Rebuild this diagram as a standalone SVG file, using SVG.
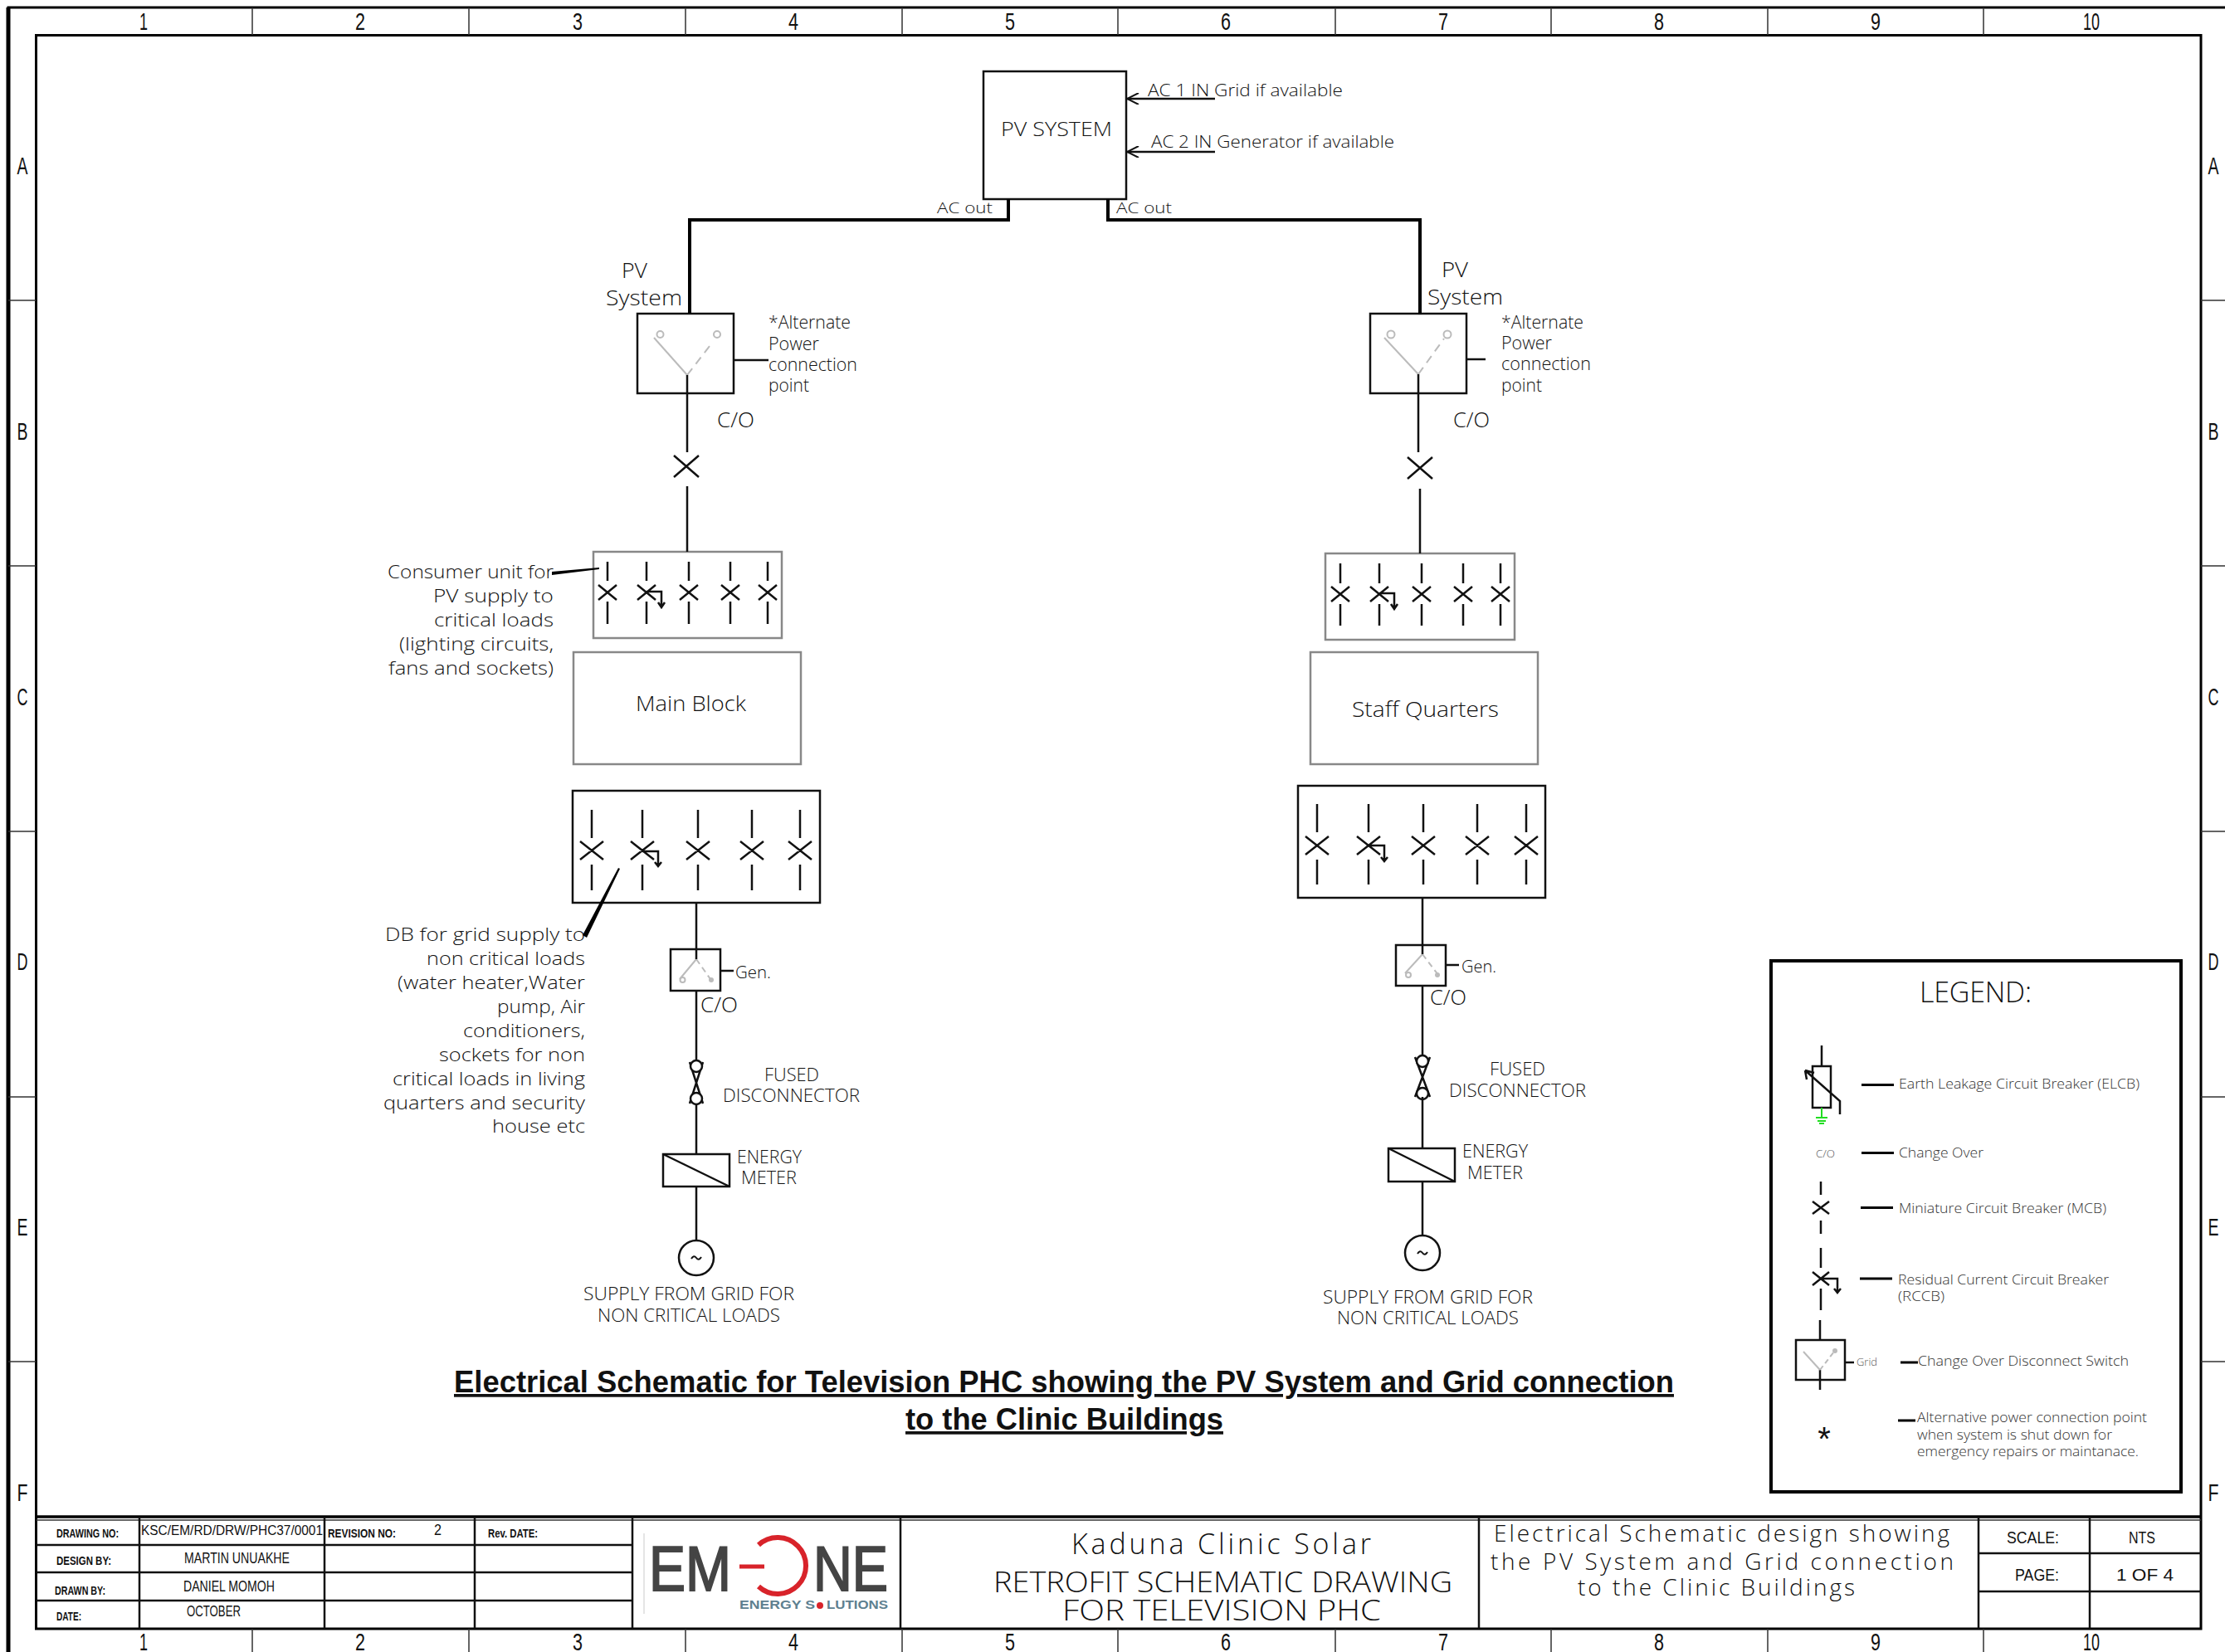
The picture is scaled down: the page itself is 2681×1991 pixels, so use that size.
<svg xmlns="http://www.w3.org/2000/svg" width="2681" height="1991" viewBox="0 0 2681 1991">
<style>
text{font-family:"Open Sans","Liberation Sans",sans-serif;font-weight:300;fill:#111;font-size:22px}
.w{fill:none;stroke:#111;stroke-width:2.5}
.thin{fill:none;stroke:#111;stroke-width:2}
.hv{fill:none;stroke:#000;stroke-width:4}
.gb{fill:#fff;stroke:#888;stroke-width:2.5}
.bb{fill:#fff;stroke:#111;stroke-width:2.5}
.lg{fill:none;stroke:#bbb;stroke-width:2}
.dg{fill:none;stroke:#bbb;stroke-width:2;stroke-dasharray:10 7}
.frame{fill:none;stroke:#000;stroke-width:3}
.tick{fill:none;stroke:#333;stroke-width:1.5}
.n{font-family:"Liberation Sans",sans-serif;font-weight:400;font-size:30px;fill:#111}
.m{font-family:"Liberation Sans",sans-serif;font-weight:400;font-size:18px;fill:#111}
.l{font-family:"Liberation Sans",sans-serif;font-weight:400;font-size:21px;fill:#111}
.bd{font-family:"Liberation Sans",sans-serif;font-weight:700;font-size:14px;fill:#111}
.big{font-size:34px}
.sm{font-size:16px;fill:#333}
.ttl{font-family:"Liberation Sans",sans-serif;font-weight:700;font-size:37px;fill:#111;text-decoration:underline}
</style>
<defs>
<marker id="open" viewBox="0 0 10 10" refX="10" refY="5" markerWidth="18" markerHeight="14" orient="auto" markerUnits="userSpaceOnUse"><path d="M0 0L10 5L0 10" fill="none" stroke="#111" stroke-width="1.4"/></marker>
</defs>
<rect width="2681" height="1991" fill="#fff"/>
<g id="frame">
<path d="M10 1991V9H2681" fill="none" stroke="#000" stroke-width="3"/>
<path d="M10 9V1991" fill="none" stroke="#000" stroke-width="5"/>
<path class="frame" d="M43.5 42.5H2652V1963H43.5Z"/>
<path class="tick" d="M304 9V42M565 9V42M826 9V42M1087 9V42M1347 9V42M1609 9V42M1869 9V42M2130 9V42M2390 9V42M304 1963V1991M565 1963V1991M826 1963V1991M1087 1963V1991M1347 1963V1991M1609 1963V1991M1869 1963V1991M2130 1963V1991M2390 1963V1991M10 362H43M10 682H43M10 1002H43M10 1322H43M10 1641H43M2652 362H2681M2652 682H2681M2652 1002H2681M2652 1322H2681M2652 1641H2681"/>
<text class="n" x="173" y="36" text-anchor="middle" textLength="10" lengthAdjust="spacingAndGlyphs">1</text><text class="n" x="434" y="36" text-anchor="middle" textLength="12" lengthAdjust="spacingAndGlyphs">2</text><text class="n" x="696" y="36" text-anchor="middle" textLength="12" lengthAdjust="spacingAndGlyphs">3</text><text class="n" x="956" y="36" text-anchor="middle" textLength="12" lengthAdjust="spacingAndGlyphs">4</text><text class="n" x="1217" y="36" text-anchor="middle" textLength="12" lengthAdjust="spacingAndGlyphs">5</text><text class="n" x="1477" y="36" text-anchor="middle" textLength="12" lengthAdjust="spacingAndGlyphs">6</text><text class="n" x="1739" y="36" text-anchor="middle" textLength="12" lengthAdjust="spacingAndGlyphs">7</text><text class="n" x="1999" y="36" text-anchor="middle" textLength="12" lengthAdjust="spacingAndGlyphs">8</text><text class="n" x="2260" y="36" text-anchor="middle" textLength="12" lengthAdjust="spacingAndGlyphs">9</text><text class="n" x="2520" y="36" text-anchor="middle" textLength="20" lengthAdjust="spacingAndGlyphs">10</text>
<text class="n" x="173" y="1989" text-anchor="middle" textLength="10" lengthAdjust="spacingAndGlyphs">1</text><text class="n" x="434" y="1989" text-anchor="middle" textLength="12" lengthAdjust="spacingAndGlyphs">2</text><text class="n" x="696" y="1989" text-anchor="middle" textLength="12" lengthAdjust="spacingAndGlyphs">3</text><text class="n" x="956" y="1989" text-anchor="middle" textLength="12" lengthAdjust="spacingAndGlyphs">4</text><text class="n" x="1217" y="1989" text-anchor="middle" textLength="12" lengthAdjust="spacingAndGlyphs">5</text><text class="n" x="1477" y="1989" text-anchor="middle" textLength="12" lengthAdjust="spacingAndGlyphs">6</text><text class="n" x="1739" y="1989" text-anchor="middle" textLength="12" lengthAdjust="spacingAndGlyphs">7</text><text class="n" x="1999" y="1989" text-anchor="middle" textLength="12" lengthAdjust="spacingAndGlyphs">8</text><text class="n" x="2260" y="1989" text-anchor="middle" textLength="12" lengthAdjust="spacingAndGlyphs">9</text><text class="n" x="2520" y="1989" text-anchor="middle" textLength="20" lengthAdjust="spacingAndGlyphs">10</text>
<text class="n" x="27" y="210" text-anchor="middle" textLength="13" lengthAdjust="spacingAndGlyphs">A</text><text class="n" x="27" y="530" text-anchor="middle" textLength="13" lengthAdjust="spacingAndGlyphs">B</text><text class="n" x="27" y="850" text-anchor="middle" textLength="13" lengthAdjust="spacingAndGlyphs">C</text><text class="n" x="27" y="1169" text-anchor="middle" textLength="13" lengthAdjust="spacingAndGlyphs">D</text><text class="n" x="27" y="1489" text-anchor="middle" textLength="13" lengthAdjust="spacingAndGlyphs">E</text><text class="n" x="27" y="1809" text-anchor="middle" textLength="13" lengthAdjust="spacingAndGlyphs">F</text>
<text class="n" x="2667" y="210" text-anchor="middle" textLength="13" lengthAdjust="spacingAndGlyphs">A</text><text class="n" x="2667" y="530" text-anchor="middle" textLength="13" lengthAdjust="spacingAndGlyphs">B</text><text class="n" x="2667" y="850" text-anchor="middle" textLength="13" lengthAdjust="spacingAndGlyphs">C</text><text class="n" x="2667" y="1169" text-anchor="middle" textLength="13" lengthAdjust="spacingAndGlyphs">D</text><text class="n" x="2667" y="1489" text-anchor="middle" textLength="13" lengthAdjust="spacingAndGlyphs">E</text><text class="n" x="2667" y="1809" text-anchor="middle" textLength="13" lengthAdjust="spacingAndGlyphs">F</text>
</g>
<g id="pv-system"><rect class="bb" x="1185" y="86" width="172" height="154"/><text style="font-size:24px" x="1206" y="164" textLength="134" lengthAdjust="spacingAndGlyphs">PV SYSTEM</text></g>
<g id="inputs-labels">
<text style="font-size:20px" x="1383" y="116" textLength="235" lengthAdjust="spacingAndGlyphs">AC 1 IN Grid if available</text>
<text style="font-size:20px" x="1387" y="178" textLength="293" lengthAdjust="spacingAndGlyphs">AC 2 IN Generator if available</text>
<text style="font-size:19px" x="1129" y="257" textLength="67" lengthAdjust="spacingAndGlyphs">AC out</text>
<text style="font-size:19px" x="1345" y="257" textLength="67" lengthAdjust="spacingAndGlyphs">AC out</text>
</g>
<g id="left-changeover">
<text style="font-size:26px" x="749" y="335" textLength="31" lengthAdjust="spacingAndGlyphs">PV</text>
<text style="font-size:26px" x="730" y="368" textLength="92" lengthAdjust="spacingAndGlyphs">System</text>
<rect class="bb" x="768" y="378" width="116" height="96"/>
<path class="lg" d="M828 452L788 407"/><path class="dg" d="M828 452L859 412"/>
<circle class="lg" cx="795.500" cy="403" r="4"/><circle class="lg" cx="864" cy="403" r="4"/>
<text x="926" y="396" textLength="99" lengthAdjust="spacingAndGlyphs">*Alternate</text>
<text x="926" y="422" textLength="61" lengthAdjust="spacingAndGlyphs">Power</text>
<text x="926" y="447" textLength="107" lengthAdjust="spacingAndGlyphs">connection</text>
<text x="926" y="472" textLength="49" lengthAdjust="spacingAndGlyphs">point</text>
<text style="font-size:26px" x="864" y="515" textLength="45" lengthAdjust="spacingAndGlyphs">C/O</text>
<path class="w" d="M812 549L842 575M842 549L812 575"/>
</g>
<g id="left-consumer-unit">
<rect class="gb" x="715" y="665" width="227" height="104"/>
<path class="w" d="M732 677V700M732 725V752M721 705L743 723M743 705L721 723M779 677V700M779 725V752M768 705L790 723M790 705L768 723M830 677V700M830 725V752M819 705L841 723M841 705L819 723M880 677V700M880 725V752M869 705L891 723M891 705L869 723M925 677V700M925 725V752M914 705L936 723M936 705L914 723M779 713H797V732M793 726L797 732L801 726"/>
<text x="467" y="697" textLength="200" lengthAdjust="spacingAndGlyphs">Consumer unit for</text>
<text x="522" y="726" textLength="145" lengthAdjust="spacingAndGlyphs">PV supply to</text>
<text x="523" y="755" textLength="144" lengthAdjust="spacingAndGlyphs">critical loads</text>
<text x="481" y="784" textLength="186" lengthAdjust="spacingAndGlyphs">(lighting circuits,</text>
<text x="468" y="813" textLength="199" lengthAdjust="spacingAndGlyphs">fans and sockets)</text>
</g>
<g id="main-block"><rect class="gb" x="691" y="786" width="274" height="135"/><text style="font-size:25px" x="766" y="857" textLength="133" lengthAdjust="spacingAndGlyphs">Main Block</text></g>
<g id="left-db">
<rect class="bb" x="690" y="953" width="298" height="135"/>
<path class="w" d="M713 976V1010M713 1042V1073M699 1014L727 1036M727 1014L699 1036M774 976V1010M774 1042V1073M760 1014L788 1036M788 1014L760 1036M841 976V1010M841 1042V1073M827 1014L855 1036M855 1014L827 1036M906 976V1010M906 1042V1073M892 1014L920 1036M920 1014L892 1036M964 976V1010M964 1042V1073M950 1014L978 1036M978 1014L950 1036M774 1026H793V1044M789 1039L793 1044L797 1039"/>
<text x="464" y="1134" textLength="241" lengthAdjust="spacingAndGlyphs">DB for grid supply to</text>
<text x="514" y="1163" textLength="191" lengthAdjust="spacingAndGlyphs">non critical loads</text>
<text x="479" y="1192" textLength="226" lengthAdjust="spacingAndGlyphs">(water heater,Water</text>
<text x="599" y="1221" textLength="106" lengthAdjust="spacingAndGlyphs">pump, Air</text>
<text x="558" y="1250" textLength="147" lengthAdjust="spacingAndGlyphs">conditioners,</text>
<text x="529" y="1279" textLength="176" lengthAdjust="spacingAndGlyphs">sockets for non</text>
<text x="473" y="1308" textLength="232" lengthAdjust="spacingAndGlyphs">critical loads in living</text>
<text x="462" y="1337" textLength="243" lengthAdjust="spacingAndGlyphs">quarters and security</text>
<text x="593" y="1365" textLength="112" lengthAdjust="spacingAndGlyphs">house etc</text>
</g>
<g id="left-grid-feed">
<rect class="bb" x="808" y="1144" width="60" height="50"/>
<path class="lg" d="M839 1156L819 1180"/><path style="stroke:#bbb;stroke-width:2;stroke-dasharray:7 5" d="M839 1156L856 1180"/>
<circle cx="822.500" cy="1181" r="3" fill="none" stroke="#bbb" stroke-width="2"/><circle cx="857" cy="1181" r="3" fill="#bbb"/>
<text style="font-size:20px" x="886" y="1179" textLength="43" lengthAdjust="spacingAndGlyphs">Gen.</text>
<text style="font-size:26px" x="844" y="1220" textLength="45" lengthAdjust="spacingAndGlyphs">C/O</text>
<path class="w" d="M831 1280L847 1330M847 1280L831 1330"/>
<circle class="bb" cx="839" cy="1285" r="7"/><circle class="bb" cx="839" cy="1324" r="7"/>
<text x="921" y="1303" textLength="66" lengthAdjust="spacingAndGlyphs">FUSED</text>
<text x="871" y="1328" textLength="165" lengthAdjust="spacingAndGlyphs">DISCONNECTOR</text>
<rect class="bb" x="799" y="1391" width="80" height="39"/><path class="w" d="M799 1391L879 1430"/>
<text x="888" y="1402" textLength="78" lengthAdjust="spacingAndGlyphs">ENERGY</text>
<text x="893" y="1427" textLength="67" lengthAdjust="spacingAndGlyphs">METER</text>
<circle class="bb" cx="839" cy="1516" r="21"/><path class="thin" d="M833 1517Q836 1512 839 1516T845 1515"/>
<text x="703" y="1567" textLength="254" lengthAdjust="spacingAndGlyphs">SUPPLY FROM GRID FOR</text>
<text x="720" y="1593" textLength="220" lengthAdjust="spacingAndGlyphs">NON CRITICAL LOADS</text>
</g>
<g id="right-changeover">
<text style="font-size:26px" x="1737" y="334" textLength="32" lengthAdjust="spacingAndGlyphs">PV</text>
<text style="font-size:26px" x="1720" y="367" textLength="91" lengthAdjust="spacingAndGlyphs">System</text>
<rect class="bb" x="1651" y="378" width="116" height="96"/>
<path class="lg" d="M1709 451L1668 407"/><path class="dg" d="M1709 451L1740 408"/>
<circle class="lg" cx="1676" cy="403" r="4.500"/><circle class="lg" cx="1744" cy="403" r="4.500"/>
<text x="1809" y="396" textLength="99" lengthAdjust="spacingAndGlyphs">*Alternate</text>
<text x="1809" y="421" textLength="61" lengthAdjust="spacingAndGlyphs">Power</text>
<text x="1809" y="446" textLength="108" lengthAdjust="spacingAndGlyphs">connection</text>
<text x="1809" y="472" textLength="49" lengthAdjust="spacingAndGlyphs">point</text>
<text style="font-size:26px" x="1751" y="515" textLength="44" lengthAdjust="spacingAndGlyphs">C/O</text>
<path class="w" d="M1696 551L1726 577M1726 551L1696 577"/>
</g>
<g id="right-consumer-unit">
<rect class="gb" x="1597" y="667" width="228" height="104"/>
<path class="w" d="M1615 679V703M1615 728V754M1604 707L1626 725M1626 707L1604 725M1662 679V703M1662 728V754M1651 707L1673 725M1673 707L1651 725M1713 679V703M1713 728V754M1702 707L1724 725M1724 707L1702 725M1763 679V703M1763 728V754M1752 707L1774 725M1774 707L1752 725M1808 679V703M1808 728V754M1797 707L1819 725M1819 707L1797 725M1662 715H1680V734M1676 728L1680 734L1684 728"/>
</g>
<g id="staff-quarters"><rect class="gb" x="1579" y="786" width="274" height="135"/><text style="font-size:25px" x="1629" y="864" textLength="177" lengthAdjust="spacingAndGlyphs">Staff Quarters</text></g>
<g id="right-db">
<rect class="bb" x="1564" y="947" width="298" height="135"/>
<path class="w" d="M1587 969V1003M1587 1036V1066M1573 1008L1601 1030M1601 1008L1573 1030M1649 969V1003M1649 1036V1066M1635 1008L1663 1030M1663 1008L1635 1030M1715 969V1003M1715 1036V1066M1701 1008L1729 1030M1729 1008L1701 1030M1780 969V1003M1780 1036V1066M1766 1008L1794 1030M1794 1008L1766 1030M1839 969V1003M1839 1036V1066M1825 1008L1853 1030M1853 1008L1825 1030M1649 1019H1668V1038M1664 1033L1668 1038L1672 1033"/>
</g>
<g id="right-grid-feed">
<rect class="bb" x="1682" y="1139" width="60" height="49"/>
<path class="lg" d="M1714 1150L1693 1173"/><path style="stroke:#bbb;stroke-width:2;stroke-dasharray:7 5" d="M1714 1150L1733 1175"/>
<circle cx="1697" cy="1175" r="3" fill="none" stroke="#bbb" stroke-width="2"/><circle cx="1732" cy="1175" r="3" fill="#bbb"/>
<text style="font-size:20px" x="1761" y="1172" textLength="42" lengthAdjust="spacingAndGlyphs">Gen.</text>
<text style="font-size:26px" x="1723" y="1211" textLength="44" lengthAdjust="spacingAndGlyphs">C/O</text>
<path class="w" d="M1705 1274L1723 1322M1723 1274L1705 1322"/>
<circle class="bb" cx="1714" cy="1279" r="7"/><circle class="bb" cx="1714" cy="1318" r="7"/>
<text x="1795" y="1296" textLength="67" lengthAdjust="spacingAndGlyphs">FUSED</text>
<text x="1746" y="1322" textLength="165" lengthAdjust="spacingAndGlyphs">DISCONNECTOR</text>
<rect class="bb" x="1673" y="1384" width="80" height="40"/><path class="w" d="M1673 1384L1753 1424"/>
<text x="1762" y="1395" textLength="79" lengthAdjust="spacingAndGlyphs">ENERGY</text>
<text x="1768" y="1421" textLength="67" lengthAdjust="spacingAndGlyphs">METER</text>
<circle class="bb" cx="1714" cy="1510" r="21"/><path class="thin" d="M1708 1511Q1711 1506 1714 1510T1720 1509"/>
<text x="1594" y="1571" textLength="253" lengthAdjust="spacingAndGlyphs">SUPPLY FROM GRID FOR</text>
<text x="1611" y="1596" textLength="219" lengthAdjust="spacingAndGlyphs">NON CRITICAL LOADS</text>
</g>
<g id="connectors">
<path class="hv" d="M1215 240V265H831V378"/>
<path class="hv" d="M1335 240V265H1711V379"/>
<path class="w" d="M1464 119H1358" marker-end="url(#open)"/>
<path class="w" d="M1464 183H1358" marker-end="url(#open)"/>
<path class="w" d="M828 452V545M828 586V665M884 434H926"/>
<path class="w" d="M1709 451V545M1711 589V667M1767 433H1790"/>
<path class="w" d="M839 1088V1156M839 1194V1278M839 1330V1391M839 1430V1496M868 1170H884"/>
<path class="w" d="M1714 1082V1150M1714 1188V1272M1714 1322V1384M1714 1424V1489M1742 1163H1758"/>
<polygon points="665,689 722,684 722,686 665,693" fill="#000"/>
<polygon points="702,1127 745,1046 747,1047 707,1130" fill="#000"/>
</g>
<g id="title">
<text class="ttl" x="547" y="1678" textLength="1470" lengthAdjust="spacingAndGlyphs">Electrical Schematic for Television PHC showing the PV System and Grid connection</text>
<text class="ttl" x="1091" y="1723" textLength="383" lengthAdjust="spacingAndGlyphs">to the Clinic Buildings</text>
</g>
<g id="legend">
<rect x="2134" y="1158" width="494" height="640" fill="#fff" stroke="#000" stroke-width="4"/>
<text class="big" x="2313" y="1208" textLength="135" lengthAdjust="spacing">LEGEND:</text>
<path class="w" d="M2195 1260V1285M2217 1343V1327L2175 1290M2175 1290L2177 1301M2175 1290L2186 1293"/>
<rect x="2184" y="1285" width="22" height="50" fill="none" stroke="#111" stroke-width="2.5"/>
<path d="M2195 1335V1347M2188 1347H2202M2190 1351H2200M2192 1354H2198" fill="none" stroke="#22dd22" stroke-width="2"/>
<path class="hv" d="M2243 1307.500H2282M2243 1389.500H2282M2242 1455.500H2281M2241 1541H2280M2290 1642H2311M2287 1712H2308" style="stroke-width:3"/>
<text class="sm" x="2288" y="1312" textLength="290" lengthAdjust="spacingAndGlyphs">Earth Leakage Circuit Breaker (ELCB)</text>
<text style="font-size:12px;fill:#555" x="2188" y="1395" textLength="23" lengthAdjust="spacingAndGlyphs">C/O</text>
<text class="sm" x="2288" y="1395" textLength="102" lengthAdjust="spacingAndGlyphs">Change Over</text>
<path class="w" d="M2194 1424V1440M2194 1471V1487M2184 1448L2204 1463M2204 1448L2184 1463"/>
<text class="sm" x="2288" y="1462" textLength="250" lengthAdjust="spacingAndGlyphs">Miniature Circuit Breaker (MCB)</text>
<path class="w" d="M2194 1504V1528M2194 1553V1579M2184 1533L2204 1549M2204 1533L2184 1549M2194 1541H2214V1558M2210 1553L2214 1558L2218 1553"/>
<text class="sm" x="2287" y="1548" textLength="254" lengthAdjust="spacingAndGlyphs">Residual Current Circuit Breaker</text>
<text class="sm" x="2287" y="1568" textLength="56" lengthAdjust="spacingAndGlyphs">(RCCB)</text>
<path class="w" d="M2193 1591V1615M2193 1651V1675M2223 1642H2234"/>
<rect x="2164" y="1615" width="59" height="48" fill="none" stroke="#111" stroke-width="2.5"/>
<path class="lg" d="M2193 1651L2173 1629"/><path style="stroke:#bbb;stroke-width:2;stroke-dasharray:6 4" d="M2193 1651L2210 1629"/><circle cx="2211" cy="1628" r="3" fill="#bbb"/>
<text style="font-size:12px;fill:#555" x="2237" y="1646" textLength="25" lengthAdjust="spacingAndGlyphs">Grid</text>
<text class="sm" x="2311" y="1646" textLength="254" lengthAdjust="spacingAndGlyphs">Change Over Disconnect Switch</text>
<text style="font-size:40px;font-family:'Liberation Sans',sans-serif;fill:#111" x="2198" y="1748" text-anchor="middle">*</text>
<text class="sm" x="2310" y="1714" textLength="277" lengthAdjust="spacingAndGlyphs">Alternative power connection point</text>
<text class="sm" x="2310" y="1735" textLength="235" lengthAdjust="spacingAndGlyphs">when system is shut down for</text>
<text class="sm" x="2310" y="1755" textLength="267" lengthAdjust="spacingAndGlyphs">emergency repairs or maintanace.</text>
</g>
<g id="title-block">
<path d="M43.500 1828H2652" fill="none" stroke="#000" stroke-width="3.500"/>
<path d="M43.500 1832H2652" fill="none" stroke="#333" stroke-width="1.500"/>
<path class="w" d="M168 1828V1963M391 1828V1963M572 1828V1963M762 1828V1963M1085 1828V1963M1782 1828V1963M2384 1828V1963M2518 1828V1963M44 1862H762M44 1895H762M44 1929H762M2384 1872H2652M2384 1918H2652"/>
<text class="bd" x="68" y="1853" textLength="75" lengthAdjust="spacingAndGlyphs">DRAWING NO:</text>
<text class="bd" x="68" y="1886" textLength="66" lengthAdjust="spacingAndGlyphs">DESIGN BY:</text>
<text class="bd" x="66" y="1922" textLength="61" lengthAdjust="spacingAndGlyphs">DRAWN BY:</text>
<text class="bd" x="68" y="1953" textLength="30" lengthAdjust="spacingAndGlyphs">DATE:</text>
<text class="m" style="font-size:16px" x="170" y="1850" textLength="219" lengthAdjust="spacingAndGlyphs">KSC/EM/RD/DRW/PHC37/0001</text>
<text class="bd" x="395" y="1853" textLength="82" lengthAdjust="spacingAndGlyphs">REVISION NO:</text>
<text class="m" x="523" y="1850" textLength="9" lengthAdjust="spacingAndGlyphs">2</text>
<text class="bd" x="588" y="1853" textLength="60" lengthAdjust="spacingAndGlyphs">Rev. DATE:</text>
<text class="m" x="222" y="1884" textLength="127" lengthAdjust="spacingAndGlyphs">MARTIN UNUAKHE</text>
<text class="m" x="221" y="1918" textLength="110" lengthAdjust="spacingAndGlyphs">DANIEL MOMOH</text>
<text class="m" x="225" y="1948" textLength="65" lengthAdjust="spacingAndGlyphs">OCTOBER</text>
<text class="big" x="1291" y="1873" textLength="361" lengthAdjust="spacing">Kaduna Clinic Solar</text>
<text class="big" x="1197" y="1919" textLength="553" lengthAdjust="spacingAndGlyphs">RETROFIT SCHEMATIC DRAWING</text>
<text class="big" x="1280" y="1953" textLength="384" lengthAdjust="spacingAndGlyphs">FOR TELEVISION PHC</text>
<text style="font-size:28px" x="1800" y="1858" textLength="549" lengthAdjust="spacing">Electrical Schematic design showing</text>
<text style="font-size:28px" x="1796" y="1892" textLength="558" lengthAdjust="spacing">the PV System and Grid connection</text>
<text style="font-size:28px" x="1901" y="1923" textLength="334" lengthAdjust="spacing">to the Clinic Buildings</text>
<text class="l" x="2418" y="1860" textLength="63" lengthAdjust="spacingAndGlyphs">SCALE:</text>
<text class="l" x="2565" y="1860" textLength="32" lengthAdjust="spacingAndGlyphs">NTS</text>
<text class="l" x="2428" y="1905" textLength="53" lengthAdjust="spacingAndGlyphs">PAGE:</text>
<text class="l" x="2550" y="1905" textLength="69" lengthAdjust="spacingAndGlyphs">1 OF 4</text>
</g>
<g id="logo">
<path d="M776 1848V1945" stroke="#ddd" stroke-width="1.500"/>
<text x="782" y="1917" textLength="99" lengthAdjust="spacingAndGlyphs" stroke="#444" stroke-width="2" style="font-family:'Liberation Sans',sans-serif;font-weight:400;font-size:76px;fill:#444">EM</text>
<text x="980" y="1917" textLength="90" lengthAdjust="spacingAndGlyphs" stroke="#444" stroke-width="2" style="font-family:'Liberation Sans',sans-serif;font-weight:400;font-size:76px;fill:#444">NE</text>
<path d="M914 1862A34 34 0 1 1 914 1912" fill="none" stroke="#d8232a" stroke-width="6"/>
<path d="M891 1888H921" stroke="#d8232a" stroke-width="5"/>
<circle cx="988" cy="1935" r="4" fill="#d8232a"/>
<text x="891" y="1939" textLength="91" lengthAdjust="spacingAndGlyphs" style="font-family:'Liberation Sans',sans-serif;font-weight:700;font-size:14px;fill:#5d8090">ENERGY S</text>
<text x="996" y="1939" textLength="74" lengthAdjust="spacingAndGlyphs" style="font-family:'Liberation Sans',sans-serif;font-weight:700;font-size:14px;fill:#5d8090">LUTIONS</text>
</g>
</svg>
